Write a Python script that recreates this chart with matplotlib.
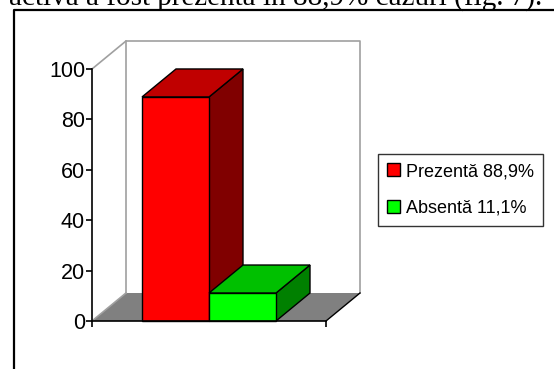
import matplotlib.pyplot as plt
import numpy as np
from matplotlib.patches import Polygon, Patch
from matplotlib.lines import Line2D

plt.rcParams['font.family'] = ['Liberation Sans', 'DejaVu Sans']

# data
labels = ['Prezentă 88,9%', 'Absentă 11,1%']
values = [88.9, 11.1]
front_colors = ['#ff0000', '#00ff00']
top_colors = ['#c00000', '#00c000']
side_colors = ['#800000', '#008000']
yticks = [0, 20, 40, 60, 80, 100]
caption = 'activă a fost prezentă în 88,9% cazuri (fig. 7).'

W, H = 554, 369
fig = plt.figure(figsize=(W / 100, H / 100), dpi=100)

# front plane of the 3d box, in pixels
x0, x1, ybot, ytop = 92, 326, 321, 69
ax = fig.add_axes([x0 / W, 1 - ybot / H, (x1 - x0) / W, (ybot - ytop) / H])
ax.set_xlim(-1, 1)
ax.set_ylim(0, 100)

# depth of the box in data units
dx = 34 / (x1 - x0) * 2
dy = 28 / (ybot - ytop) * 100
bw = 67 / (x1 - x0) * 2

wall = '#a0a0a0'
# floor
ax.add_patch(Polygon([(-1, 0), (1, 0), (1 + dx, dy), (-1 + dx, dy)],
                     closed=True, fc='#808080', ec='none', clip_on=False, zorder=1))
ax.plot([1, 1 + dx], [0, dy], color='black', lw=1, clip_on=False, zorder=2)
# walls
ax.plot([-1, -1 + dx, 1 + dx, 1 + dx], [100, 100 + dy, 100 + dy, dy],
        color=wall, lw=1.2, clip_on=False, zorder=1)
ax.plot([-1 + dx, -1 + dx], [dy, 100 + dy], color=wall, lw=1.2, clip_on=False, zorder=1)
ax.plot([-1, -1 + dx], [0, dy], color=wall, lw=1.2, clip_on=False, zorder=1)

# bars
lefts = [-bw, 0]
for i, (v, l) in enumerate(zip(values, lefts)):
    z = 3 + i
    r = l + bw
    ax.add_patch(Polygon([(r, 0), (r + dx, dy), (r + dx, v + dy), (r, v)], closed=True,
                         fc=side_colors[i], ec='black', lw=1, clip_on=False, zorder=z))
    ax.add_patch(Polygon([(l, v), (r, v), (r + dx, v + dy), (l + dx, v + dy)], closed=True,
                         fc=top_colors[i], ec='black', lw=1, clip_on=False, zorder=z))
    ax.bar([l], [v], width=bw, align='edge', color=front_colors[i],
           edgecolor='black', lw=1, zorder=z, clip_on=False)

for s in ['top', 'right']:
    ax.spines[s].set_visible(False)
ax.spines['left'].set_linewidth(1.2)
ax.spines['bottom'].set_linewidth(1.2)
ax.spines['left'].set_zorder(6)
ax.spines['bottom'].set_zorder(6)
ax.set_yticks(yticks)
ax.set_yticklabels([str(t) for t in yticks], fontsize=15.5)
ax.tick_params(axis='y', length=4, width=1.2, pad=1)
ax.set_xticks([-1, 1])
ax.set_xticklabels([])
ax.tick_params(axis='x', length=4, width=1.2)
ax.patch.set_visible(False)

handles = [Patch(fc=front_colors[i], ec='black', lw=1) for i in range(2)]
leg = fig.legend(handles, labels, loc='upper left',
                 bbox_to_anchor=(378 / W, 1 - 154 / H), fontsize=13,
                 frameon=True, fancybox=False, shadow=False, borderaxespad=0,
                 handlelength=0.7, handleheight=0.7, handletextpad=0.35,
                 labelspacing=1.1, borderpad=0.5)
leg.get_frame().set_edgecolor('black')
leg.get_frame().set_linewidth(1)

# outer frame of the figure picture
fig.add_artist(Line2D([14 / W, 14 / W, 1], [0, 1 - 9.5 / H, 1 - 9.5 / H],
                      color='black', lw=1.6))
# cropped line of text above
fig.text(9 / W, 1 - 6 / H, caption, fontsize=21, family='Liberation Serif',
         ha='left', va='baseline')

fig.savefig('out.png', dpi=100)
